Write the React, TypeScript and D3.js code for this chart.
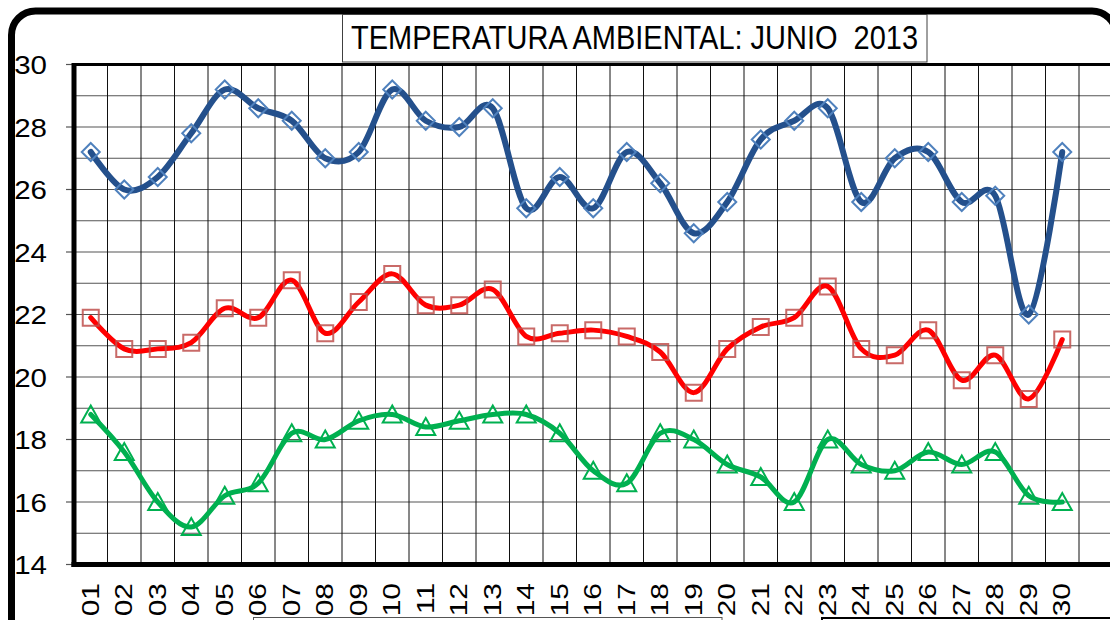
import * as d3 from 'd3';

const days = Array.from({ length: 30 }, (_, i) => String(i + 1).padStart(2, '0'));

// temperaturas (°C)
const maxTemp = [
  27.2, 26.0, 26.4, 27.8, 29.2, 28.6, 28.2, 27.0, 27.2, 29.2,
  28.2, 28.0, 28.6, 25.4, 26.4, 25.4, 27.2, 26.2, 24.6, 25.6,
  27.6, 28.2, 28.6, 25.6, 27.0, 27.2, 25.6, 25.8, 22.0, 27.2,
];
const meanTemp = [
  21.9, 20.9, 20.9, 21.1, 22.2, 21.9, 23.1, 21.4, 22.4, 23.3,
  22.3, 22.3, 22.8, 21.3, 21.4, 21.5, 21.3, 20.8, 19.5, 20.9,
  21.6, 21.9, 22.9, 20.9, 20.7, 21.5, 19.9, 20.7, 19.3, 21.2,
];
const minTemp = [
  18.8, 17.6, 16.0, 15.2, 16.2, 16.6, 18.2, 18.0, 18.6, 18.8,
  18.4, 18.6, 18.8, 18.8, 18.2, 17.0, 16.6, 18.2, 18.0, 17.2,
  16.8, 16.0, 18.0, 17.2, 17.0, 17.6, 17.2, 17.6, 16.2, 16.0,
];
const yTicks = [14, 16, 18, 20, 22, 24, 26, 28, 30];
const gridValues = d3.range(15, 30);

const title = 'TEMPERATURA AMBIENTAL: JUNIO  2013';
const font = '"Liberation Sans", Arial, sans-serif';

export default function App() {
  const width = 1110;
  const height = 620;
  const left = 74;
  const right = 1112.5;
  const top = 64.5;
  const bottom = 564.5;

  const x = d3.scaleLinear().domain([0, 31]).range([left, right]);
  const y = d3.scaleLinear().domain([14, 30]).range([bottom, top]);
  const cx = (i: number) => x(i + 0.5);

  const line = d3
    .line<number>()
    .x((_, i) => cx(i))
    .y((d) => y(d))
    .curve(d3.curveCardinal.tension(0));

  const diamond = (px: number, py: number) => `M${px},${py - 9}L${px + 9},${py}L${px},${py + 9}L${px - 9},${py}Z`;
  const square = (px: number, py: number) => `M${px - 8},${py - 8}h16v16h-16Z`;
  const triangle = (px: number, py: number) => `M${px},${py - 9}L${px + 9.5},${py + 8}L${px - 9.5},${py + 8}Z`;

  return (
    <svg width={width} height={height} style={{ position: 'absolute', left: 0, top: 0, background: '#fff' }} fontFamily={font}>
      {/* marco exterior */}
      <rect x={11.5} y={11} width={1104.5} height={700} rx={24} fill="#fff" stroke="#000" strokeWidth={7} />

      {/* titulo */}
      <rect x={342.5} y={14.5} width={584.5} height={47.5} fill="#fff" stroke="#404040" strokeWidth={1} />
      <text
        x={351}
        y={49}
        fontSize={33}
        textLength={567}
        lengthAdjust="spacingAndGlyphs"
        fill="#000"
        style={{ whiteSpace: 'pre' }}
      >
        {title}
      </text>

      {/* rejilla */}
      <rect x={left} y={top} width={right - left} height={bottom - top} fill="#fff" />
      {gridValues.map((v) => (
        <line key={'h' + v} x1={left} x2={right} y1={y(v)} y2={y(v)} stroke="#555" strokeWidth={1.2} />
      ))}
      {d3.range(1, 32).map((k) => (
        <line key={'v' + k} x1={x(k)} x2={x(k)} y1={top} y2={bottom} stroke="#111" strokeWidth={1} />
      ))}
      <line x1={left} x2={right} y1={top} y2={top} stroke="#000" strokeWidth={3} />

      {/* eje Y */}
      {yTicks.map((v) => (
        <g key={'yt' + v}>
          <line x1={left - 8} x2={left} y1={y(v)} y2={y(v)} stroke="#555" strokeWidth={1.2} />
          <text
            transform={`translate(47,${y(v) + 1}) scale(1.18,1)`}
            textAnchor="end"
            dominantBaseline="central"
            fontSize={25}
            fill="#000"
          >
            {v}
          </text>
        </g>
      ))}
      <line x1={left} x2={left} y1={top - 1.5} y2={bottom + 2.5} stroke="#000" strokeWidth={5} />
      <line x1={left - 2.5} x2={right} y1={bottom} y2={bottom} stroke="#000" strokeWidth={5} />

      {/* eje X */}
      {days.map((d, i) => (
        <text
          key={'xt' + d}
          transform={`translate(${cx(i)},583) rotate(-90) scale(1.3,1)`}
          textAnchor="end"
          dominantBaseline="central"
          fontSize={23}
          fill="#000"
        >
          {d}
        </text>
      ))}

      {/* series */}
      <path d={line(maxTemp) ?? ''} fill="none" stroke="#24508C" strokeWidth={6} strokeLinecap="round" />
      {maxTemp.map((v, i) => (
        <path key={'mx' + i} d={diamond(cx(i), y(v))} fill="none" stroke="#4F81BD" strokeWidth={2} />
      ))}

      <path d={line(meanTemp) ?? ''} fill="none" stroke="#FF0000" strokeWidth={5} strokeLinecap="round" />
      {meanTemp.map((v, i) => (
        <path key={'md' + i} d={square(cx(i), y(v))} fill="none" stroke="#C0504D" strokeOpacity={0.85} strokeWidth={2} />
      ))}

      <path d={line(minTemp) ?? ''} fill="none" stroke="#00B050" strokeWidth={5} strokeLinecap="round" />
      {minTemp.map((v, i) => (
        <path key={'mn' + i} d={triangle(cx(i), y(v))} fill="none" stroke="#00B050" strokeWidth={2} />
      ))}

      {/* cajas inferiores (leyendas) */}
      <rect x={253.5} y={617.5} width={468.5} height={40} fill="#fff" stroke="#555" strokeWidth={1} />
      <rect x={822} y={618} width={320} height={40} fill="#fff" stroke="#000" strokeWidth={2} />
    </svg>
  );
}
